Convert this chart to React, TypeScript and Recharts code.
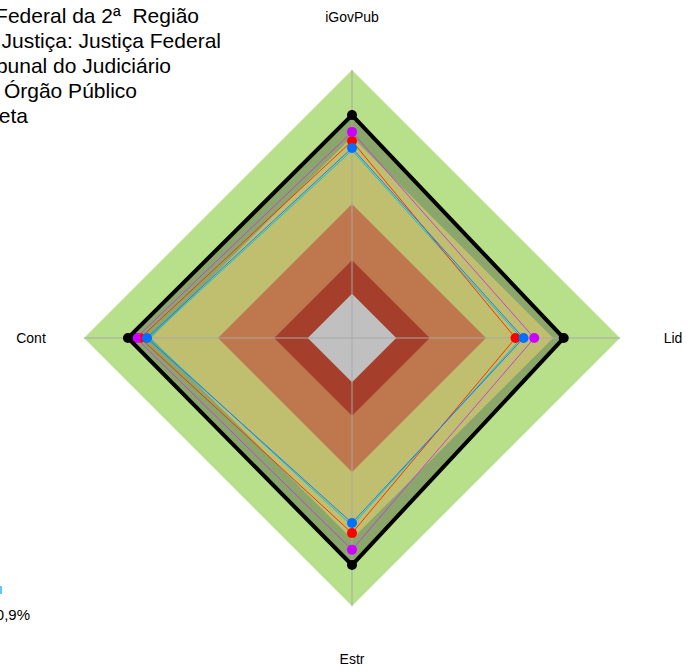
import React from "react";
import { RadarChart, Radar, PolarAngleAxis, PolarRadiusAxis } from "recharts";

const categories = ["iGovPub", "Lid", "Estr", "Cont"];

// faixas de fundo (fração do raio)
const bandGrey = [0.165, 0.165, 0.165, 0.165];
const bandRed = [0.29, 0.29, 0.29, 0.29];
const bandOrange = [0.5, 0.5, 0.5, 0.5];
const bandOlive = [0.75, 0.75, 0.75, 0.75];
const bandGreen = [1, 1, 1, 1];

// séries
const meta = [0.832, 0.79, 0.847, 0.836];
const orgao = [0.769, 0.68, 0.79, 0.806];
const segmento = [0.735, 0.61, 0.728, 0.79];
const trf2 = [0.709, 0.64, 0.69, 0.765];
const tribunal = [0.7, 0.632, 0.7, 0.758];

const legendLines = [
  "Tribunal Regional Federal da 2ª  Região",
  "Segmento de Justiça: Justiça Federal",
  "Tribunal do Judiciário",
  "Tipo Órgão Público",
  "Meta",
];
const legendEnds = [199, 221, 171, 137, 28];

const data = categories.map((c, i) => ({
  name: c,
  grey: bandGrey[i],
  red: bandRed[i],
  orange: bandOrange[i],
  olive: bandOlive[i],
  green: bandGreen[i],
  meta: meta[i],
  orgao: orgao[i],
  segmento: segmento[i],
  trf2: trf2[i],
  tribunal: tribunal[i],
}));

const CX = 352;
const CY = 338;
const R = 268;
const FONT = "'Liberation Sans', Arial, sans-serif";

const AngleTick = (props: any) => {
  const { x, y, payload } = props;
  const dx = x - CX;
  const dy = y - CY;
  const d = Math.sqrt(dx * dx + dy * dy) || 1;
  const px = CX + (dx / d) * 321;
  const py = CY + (dy / d) * 321;
  return (
    <text x={px} y={py} textAnchor="middle" dominantBaseline="central" fontSize={14} fontFamily={FONT} fill="#000">
      {payload.value}
    </text>
  );
};

const pts = (points: any[]) => points.map((p) => `${p.x},${p.y}`).join(" ");

// linha da série com pontos
const seriesShape = (stroke: string, width: number, dotFill: string | null) => (props: any) => {
  const points = props.points || [];
  return (
    <g>
      <polygon points={pts(points)} fill="none" stroke={stroke} strokeWidth={width} strokeLinejoin="miter" />
      {dotFill &&
        points.map((p: any, i: number) => <circle key={i} cx={p.x} cy={p.y} r={5} fill={dotFill} />)}
    </g>
  );
};

// eixos radiais
const spokes = (props: any) => {
  const points = props.points || [];
  return (
    <g>
      {points.map((p: any, i: number) => (
        <line key={i} x1={CX} y1={CY} x2={p.x} y2={p.y} stroke="#a8a8a8" strokeWidth={1} />
      ))}
    </g>
  );
};

export default function App() {
  return (
    <div style={{ position: "absolute", left: 0, top: 0, width: 687, height: 671, background: "#fff" }}>
      <RadarChart width={687} height={671} cx={CX} cy={CY} outerRadius={R} data={data} margin={{ top: 0, right: 0, bottom: 0, left: 0 }}>
        <PolarRadiusAxis domain={[0, 1]} tick={false} axisLine={false} />
        <PolarAngleAxis dataKey="name" axisLine={false} tickLine={false} tick={<AngleTick />} />
        <Radar dataKey="green" stroke="none" fill="#b8e08a" fillOpacity={1} isAnimationActive={false} />
        <Radar dataKey="meta" stroke="none" fill="#8ba66a" fillOpacity={1} isAnimationActive={false} />
        <Radar dataKey="olive" stroke="none" fill="#c0bf6f" fillOpacity={1} isAnimationActive={false} />
        <Radar dataKey="orange" stroke="none" fill="#bf774d" fillOpacity={1} isAnimationActive={false} />
        <Radar dataKey="red" stroke="none" fill="#a53e2b" fillOpacity={1} isAnimationActive={false} />
        <Radar dataKey="grey" stroke="none" fill="#c0c0c0" fillOpacity={1} isAnimationActive={false} />
        <Radar dataKey="green" shape={spokes} isAnimationActive={false} />
        <Radar dataKey="tribunal" shape={seriesShape("#00c8c8", 1, null)} isAnimationActive={false} />
        <Radar dataKey="segmento" shape={seriesShape("#ff3000", 1, "#ff0000")} isAnimationActive={false} />
        <Radar dataKey="trf2" shape={seriesShape("#1e78ff", 1, "#0070ff")} isAnimationActive={false} />
        <Radar dataKey="orgao" shape={seriesShape("#c040e0", 1, "#cc00ff")} isAnimationActive={false} />
        <Radar dataKey="meta" shape={seriesShape("#000", 4, "#000")} isAnimationActive={false} />
        <g>
          {legendLines.map((t, i) => (
            <text key={t} x={legendEnds[i]} y={15 + i * 25.2} textAnchor="end" dominantBaseline="central" fontSize={21} fontFamily={FONT} fill="#000" style={{ whiteSpace: "pre" }}>
              {t}
            </text>
          ))}
          <rect x={-3} y={586} width={5} height={8} fill="#5bc8f5" />
          <text x={30} y={614} textAnchor="end" dominantBaseline="central" fontSize={15} fontFamily={FONT} fill="#000">
            70,9%
          </text>
        </g>
      </RadarChart>
    </div>
  );
}
